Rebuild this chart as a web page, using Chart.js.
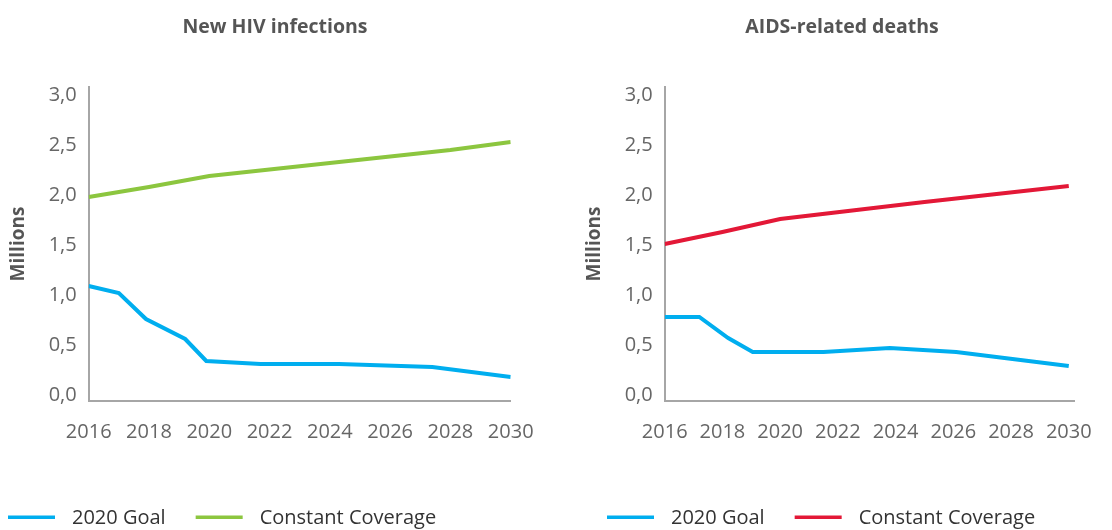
<!DOCTYPE html>
<html>
<head>
<meta charset="utf-8">
<script src="https://cdn.jsdelivr.net/npm/chart.js@4"></script>
<style>
html,body{margin:0;padding:0;background:#fff;}
#wrap{position:relative;width:1112px;height:530px;overflow:hidden;}
.c{position:absolute;top:0;width:556px;height:530px;}
</style>
</head>
<body>
<div id="wrap">
  <div class="c" style="left:0"><canvas id="left"></canvas></div>
  <div class="c" style="left:556px"><canvas id="right"></canvas></div>
</div>
<script>
// ---- data ----
const xTickYears = [2016, 2018, 2020, 2022, 2024, 2026, 2028, 2030];
const yTickValues = [0, 0.5, 1.0, 1.5, 2.0, 2.5, 3.0];
const seriesNames = ['2020 Goal', 'Constant Coverage'];
const panelTitles = ['New HIV infections', 'AIDS-related deaths'];
const axisTitle = 'Millions';

const hivGoalYears   = [2016, 2017, 2017.9, 2019.2, 2019.9, 2021.7, 2024.3, 2027.4, 2030];
const hivGoalValues  = [1.09, 1.02, 0.76, 0.56, 0.34, 0.31, 0.31, 0.28, 0.18];
const hivConstYears  = [2016, 2018, 2020, 2024, 2028, 2030];
const hivConstValues = [1.98, 2.08, 2.19, 2.32, 2.45, 2.53];

const aidsGoalYears   = [2016, 2017.2, 2018.2, 2019.05, 2021.5, 2023.8, 2026.1, 2030];
const aidsGoalValues  = [0.78, 0.78, 0.57, 0.43, 0.43, 0.47, 0.43, 0.29];
const aidsConstYears  = [2016, 2018, 2020, 2025, 2030];
const aidsConstValues = [1.51, 1.63, 1.76, 1.93, 2.09];

const BLUE = '#00AEEF', GREEN = '#8CC63F', RED = '#E31837';
const FONT = '"Open Sans"';

function pts(xs, ys) { return xs.map((x, i) => ({x: x, y: ys[i]})); }

const decoPlugin = {
  id: 'deco',
  afterDraw(chart, args, opts) {
    const ctx = chart.ctx;
    ctx.save();
    ctx.font = 'bold 19.5px ' + FONT;
    ctx.fillStyle = '#555555';
    ctx.textAlign = 'center';
    ctx.textBaseline = 'middle';
    ctx.fillText(opts.title, opts.titleX, 27);
    ctx.font = '20px ' + FONT;
    ctx.textAlign = 'left';
    let x = opts.legendX;
    const y = 518;
    chart.data.datasets.forEach(ds => {
      ctx.strokeStyle = ds.borderColor;
      ctx.lineWidth = 3.5;
      ctx.beginPath();
      ctx.moveTo(x, y - 0.7);
      ctx.lineTo(x + 47, y - 0.7);
      ctx.stroke();
      x += 47 + 17;
      ctx.fillStyle = '#333333';
      ctx.fillText(ds.label, x, y);
      x += ctx.measureText(ds.label).width + 30;
    });
    ctx.restore();
  }
};

function makeChart(id, title, goal, cons, consColor, opt) {
  return new Chart(document.getElementById(id), {
    type: 'line',
    data: {
      datasets: [
        {label: seriesNames[0], data: goal, borderColor: BLUE, backgroundColor: BLUE,
         borderWidth: 4, pointRadius: 0, tension: 0, fill: false},
        {label: seriesNames[1], data: cons, borderColor: consColor, backgroundColor: consColor,
         borderWidth: 4, pointRadius: 0, tension: 0, fill: false}
      ]
    },
    options: {
      responsive: true,
      maintainAspectRatio: false,
      animation: false,
      layout: {padding: {left: opt.padLeft, right: opt.padRight, top: 87.3, bottom: 79.3}},
      plugins: {
        legend: {display: false},
        tooltip: {enabled: false},
        title: {display: false},
        deco: {title: title, titleX: opt.titleX, legendX: opt.legendX}
      },
      scales: {
        x: {
          type: 'linear',
          min: 2016,
          max: opt.xMax,
          grid: {display: false, drawTicks: false},
          border: {display: true, color: '#a6a6a6', width: 2},
          afterBuildTicks: s => { s.ticks = xTickYears.map(v => ({value: v})); },
          afterFit: s => { s.height = 50; },
          ticks: {
            padding: 20,
            color: '#666666',
            font: {family: FONT, size: 20, weight: 'normal'},
            maxRotation: 0,
            autoSkip: false,
            callback: v => String(v)
          }
        },
        y: {
          min: -0.057,
          max: 3.077,
          grid: {display: false, drawTicks: false},
          border: {display: true, color: '#a6a6a6', width: 2},
          afterBuildTicks: s => { s.ticks = yTickValues.map(v => ({value: v})); },
          afterFit: s => { s.width = 88.7; },
          ticks: {
            padding: 12,
            color: '#666666',
            font: {family: FONT, size: 20, weight: 'normal'},
            callback: v => v.toFixed(1).replace('.', ',')
          },
          title: {
            display: true,
            text: axisTitle,
            color: '#555555',
            font: {family: FONT, size: 19, weight: 'bold'},
            padding: {top: 7, bottom: 0}
          }
        }
      }
    },
    plugins: [decoPlugin]
  });
}

makeChart('left', panelTitles[0], pts(hivGoalYears, hivGoalValues), pts(hivConstYears, hivConstValues), GREEN,
  {padLeft: 0, padRight: 45.3, xMax: 2030, titleX: 275, legendX: 8});
makeChart('right', panelTitles[1], pts(aidsGoalYears, aidsGoalValues), pts(aidsConstYears, aidsConstValues), RED,
  {padLeft: 20, padRight: 25.7, xMax: 2030.2, titleX: 286, legendX: 51});
</script>
</body>
</html>
